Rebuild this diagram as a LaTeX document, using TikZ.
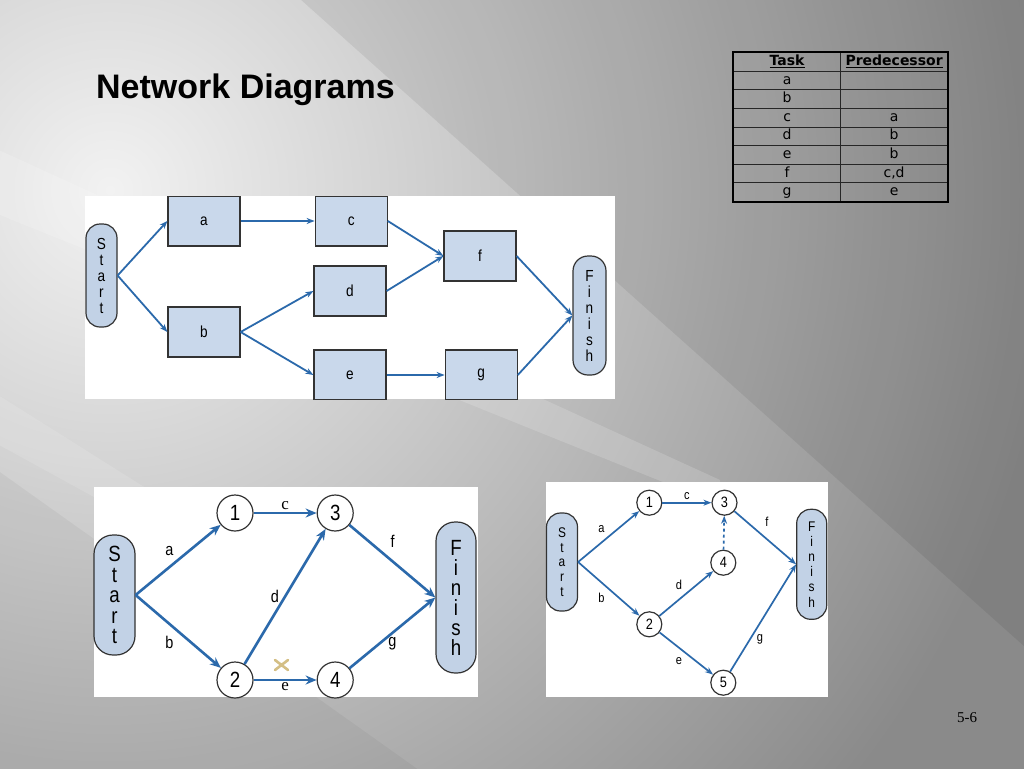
\documentclass[tikz,border=0pt]{standalone}
\usepackage{fontspec}
\setmainfont{Liberation Serif}
\setsansfont{Liberation Sans}
\newfontfamily\narrowsf[FakeStretch=0.85]{Liberation Sans}
\newfontfamily\tablefont{DejaVu Sans}
\usetikzlibrary{arrows.meta, positioning, matrix}

\definecolor{bgLight}{HTML}{F2F2F2}
\definecolor{bgDark}{HTML}{8A8A8A}
\definecolor{boxblue}{HTML}{C9D8EB}
\definecolor{pillblue}{HTML}{C2D2E6}
\definecolor{arrowblue}{HTML}{2B69AB}
\definecolor{edgegray}{HTML}{333333}
\definecolor{tanmark}{HTML}{D4BF85}

\begin{document}
\begin{tikzpicture}[x=1pt, y=-1pt,
    task/.style={rectangle, draw=edgegray, fill=boxblue, line width=1.2pt, minimum width=72pt, minimum height=50pt, inner sep=0pt, font=\narrowsf\fontsize{16}{16}\selectfont},
    pill/.style={rectangle, rounded corners=14pt, draw=edgegray, fill=pillblue, line width=1.2pt, align=center, inner sep=0pt},
    event/.style={circle, draw=edgegray, fill=white, line width=1.2pt, inner sep=0pt},
    arrA/.style={draw=arrowblue, line width=1.8pt, -{Stealth[length=8pt, width=6pt]}},
    arrB/.style={draw=arrowblue, line width=2.6pt, -{Stealth[length=11pt, width=9pt]}},
    arrC/.style={draw=arrowblue, line width=1.7pt, -{Stealth[length=8pt, width=6pt]}},
    lblB/.style={font=\narrowsf\fontsize{17}{17}\selectfont, inner sep=2pt},
    lblC/.style={font=\narrowsf\fontsize{13}{13}\selectfont, inner sep=2pt}]

    \useasboundingbox (0,0) rectangle (1024,768);

    % Slide background
    \fill[bgDark] (-10,-10) rectangle (1034,778);
    \shade[inner color=bgLight, outer color=bgDark] (110,190) circle (950);
    \fill[black, opacity=0.07] (290,-10) -- (1034,-10) -- (1034,655) -- cycle;
    \fill[white, opacity=0.16] (-10,146) -- (-10,211) -- (720,505) -- (720,480) -- cycle;
    \fill[white, opacity=0.12] (-10,390) -- (-10,440) -- (300,610) -- (300,585) -- cycle;
    \fill[black, opacity=0.04] (-10,465) -- (-10,778) -- (430,778) -- cycle;

    \node[anchor=base west, font=\sffamily\bfseries\fontsize{34}{40}\selectfont, inner sep=0pt] (title) at (96,98.3) {Network Diagrams};

    % Task table
    \matrix[matrix of nodes, nodes in empty cells, anchor=north west, inner sep=0pt,
            column sep=-0.8pt, row sep=-0.8pt,
            nodes={draw=black!85, line width=0.8pt, minimum width=107pt, minimum height=18.6pt, inner sep=0pt,
                   anchor=center, text height=10pt, text depth=3pt,
                   font=\tablefont\fontsize{14}{14}\selectfont, text=black}] (tasks) at (733,52) {
        \textbf{\underline{Task}} & \textbf{\underline{Predecessor}} \\
        a & \\
        b & \\
        c & a \\
        d & b \\
        e & b \\
        f & c,d \\
        g & e \\
    };
    \draw[line width=1.6pt] (tasks.north west) rectangle (tasks.south east);

    % Activity-on-node diagram
    \fill[white] (85,196) rectangle (615,399);
    \begin{scope}
        \clip (85,196) rectangle (615,399.5);
        \node[pill, minimum width=31pt, minimum height=103pt, font=\narrowsf\fontsize{16}{16}\selectfont] (start1) at (101.5,275.5) {S\\t\\a\\r\\t};
        \node[task] (a) at (204,221) {a};
        \node[task] (b) at (204,332) {b};
        \node[task, right=74pt of a] (c) {c};
        \node[task] (d) at (350,291) {d};
        \node[task] (e) at (350,375) {e};
        \node[task] (f) at (480,256) {f};
        \node[task, right=58pt of e] (g) {g};
        \node[pill, minimum width=33pt, minimum height=119pt, rounded corners=15pt, font=\narrowsf\fontsize{16}{16}\selectfont] (finish1) at (589.5,315.5) {F\\i\\n\\i\\s\\h};

        \draw[arrA] (start1.east) -- (a.west);
        \draw[arrA] (start1.east) -- (b.west);
        \draw[arrA] (a) -- (c);
        \draw[arrA] (b.east) -- (d.west);
        \draw[arrA] (b.east) -- (e.west);
        \draw[arrA] (c.east) -- (f.west);
        \draw[arrA] (d.east) -- (f.west);
        \draw[arrA] (e) -- (g);
        \draw[arrA] (f.east) -- (finish1.west);
        \draw[arrA] (g.east) -- (finish1.west);
    \end{scope}

    % Activity-on-arrow diagram
    \fill[white] (94,487) rectangle (478,697);
    \node[pill, minimum width=41pt, minimum height=120pt, rounded corners=19pt, font=\narrowsf\fontsize{22}{20.4}\selectfont] (start2) at (114.5,595) {S\\t\\a\\r\\t};
    \node[event, minimum size=36pt, font=\narrowsf\fontsize{22}{22}\selectfont] (p1) at (235,513) {1};
    \node[event, minimum size=36pt, font=\narrowsf\fontsize{22}{22}\selectfont, right=63pt of p1] (p3) {3};
    \node[event, minimum size=36pt, font=\narrowsf\fontsize{22}{22}\selectfont] (p2) at (235,680) {2};
    \node[event, minimum size=36pt, font=\narrowsf\fontsize{22}{22}\selectfont, right=63pt of p2] (p4) {4};
    \node[pill, minimum width=40pt, minimum height=151pt, rounded corners=19pt, font=\narrowsf\fontsize{22}{20}\selectfont] (finish2) at (456,597.5) {F\\i\\n\\i\\s\\h};

    \draw[arrB] (start2.east) -- node[lblB, above left=2pt] {a} (p1);
    \draw[arrB] (start2.east) -- node[lblB, below left=2pt] {b} (p2);
    \draw[arrB] (p1) -- node[lblB, above, font=\rmfamily\fontsize{17}{17}\selectfont] {c} (p3);
    \draw[arrB] (p2) -- node[lblB, left=3pt] {d} (p3);
    \draw[arrB] (p2) -- node[lblB, below=-1pt, font=\rmfamily\fontsize{17}{17}\selectfont] {e} (p4);
    \draw[arrB] (p3) -- node[lblB, pos=0.4, above right=5pt] {f} (finish2.west);
    \draw[arrB] (p4) -- node[lblB, below=1pt] {g} (finish2.west);
    \draw[tanmark, line width=2.6pt, line cap=round] (275,660) -- (288,670) (275,670) -- (288,660);

    % Activity-on-arrow diagram with dummy
    \fill[white] (546,482) rectangle (828,697);
    \node[pill, minimum width=31pt, minimum height=98pt, font=\narrowsf\fontsize{14}{14.6}\selectfont] (start3) at (562,562) {S\\t\\a\\r\\t};
    \node[event, minimum size=25pt, font=\narrowsf\fontsize{15}{15}\selectfont] (q1) at (649.3,502.7) {1};
    \node[event, minimum size=25pt, font=\narrowsf\fontsize{15}{15}\selectfont, right=49pt of q1] (q3) {3};
    \node[event, minimum size=25pt, font=\narrowsf\fontsize{15}{15}\selectfont] (q4) at (723.3,562.7) {4};
    \node[event, minimum size=25pt, font=\narrowsf\fontsize{15}{15}\selectfont] (q2) at (649.3,624.3) {2};
    \node[event, minimum size=25pt, font=\narrowsf\fontsize{15}{15}\selectfont] (q5) at (723.3,682.7) {5};
    \node[pill, minimum width=30pt, minimum height=110pt, font=\narrowsf\fontsize{14}{15.2}\selectfont] (finish3) at (811.7,564.3) {F\\i\\n\\i\\s\\h};

    \draw[arrC] (start3.east) -- node[lblC, above left=2pt] {a} (q1);
    \draw[arrC] (start3.east) -- node[lblC, below left=2pt] {b} (q2);
    \draw[arrC] (q1) -- node[lblC, above] {c} (q3);
    \draw[arrC, dashed] (q4) -- (q3);
    \draw[arrC] (q2) -- node[lblC, above left=2pt] {d} (q4);
    \draw[arrC] (q2) -- node[lblC, below left=2pt] {e} (q5);
    \draw[arrC] (q3) -- node[lblC, pos=0.4, above right=5pt] {f} (finish3.west);
    \draw[arrC] (q5) -- node[lblC, pos=0.3, right=4pt] {g} (finish3.west);

    \node[font=\rmfamily\fontsize{15}{16}\selectfont] (pagenum) at (967,718) {5-6};
\end{tikzpicture}
\end{document}
